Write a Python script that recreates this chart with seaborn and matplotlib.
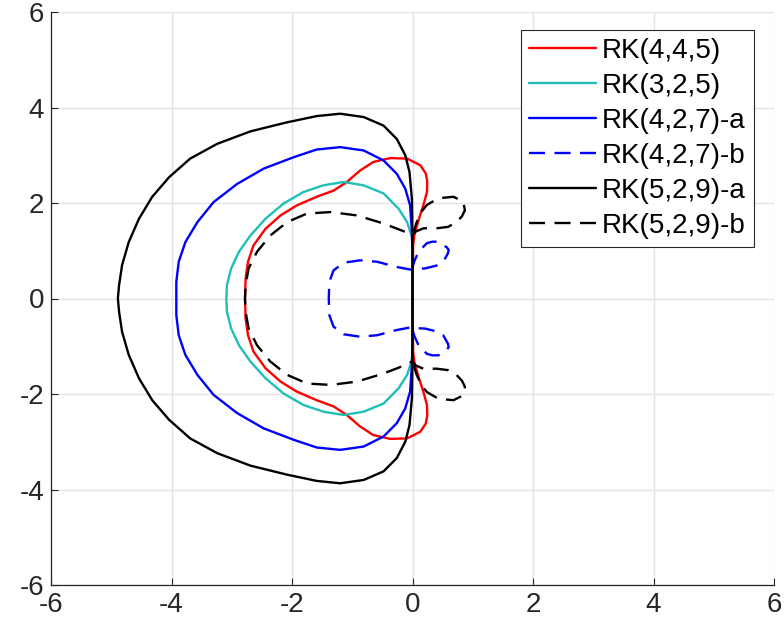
import numpy as np
import pandas as pd
import matplotlib
matplotlib.use("Agg")
import matplotlib.pyplot as plt
import seaborn as sns

# Upper halves (Im >= 0) of each stability boundary.
# The curves are symmetric about the real axis; the lower half is the mirror.
rk445_x = [-2.78, -2.77, -2.73, -2.64, -2.44, -2.19, -1.92, -1.59, -1.31, -1.09, -0.87, -0.65, -0.37, -0.09, 0.13, 0.22, 0.245, 0.24, 0.18, 0.10, 0.03, 0.01, 0.0]
rk445_y = [0.00, 0.42, 0.77, 1.11, 1.46, 1.74, 1.95, 2.13, 2.26, 2.44, 2.68, 2.86, 2.94, 2.93, 2.79, 2.62, 2.45, 2.23, 1.95, 1.64, 1.32, 1.11, 0.00]

rk325_x = [-3.09, -3.08, -3.01, -2.88, -2.69, -2.44, -2.14, -1.81, -1.48, -1.14, -0.81, -0.48, -0.23, -0.09, -0.01, 0.0, 0.0]
rk325_y = [0.00, 0.28, 0.63, 0.98, 1.32, 1.67, 1.99, 2.23, 2.37, 2.44, 2.37, 2.20, 1.88, 1.60, 1.29, 1.11, 0.00]

rk427a_x = [-3.92, -3.92, -3.88, -3.77, -3.57, -3.30, -2.91, -2.47, -1.97, -1.59, -1.20, -0.81, -0.48, -0.26, -0.12, -0.04, -0.01, 0.0, 0.0]
rk427a_y = [0.00, 0.35, 0.77, 1.18, 1.60, 2.02, 2.40, 2.72, 2.96, 3.12, 3.17, 3.10, 2.89, 2.61, 2.30, 1.95, 1.39, 0.90, 0.00]

rk427b_x = [-1.39, -1.38, -1.31, -1.14, -0.87, -0.59, -0.26, -0.01, 0.04, 0.21, 0.40, 0.51, 0.59, 0.60, 0.57, 0.43, 0.33, 0.24, 0.10, 0.03, 0.0]
rk427b_y = [0.00, 0.35, 0.59, 0.75, 0.80, 0.77, 0.66, 0.60, 0.62, 0.63, 0.69, 0.77, 0.95, 1.02, 1.07, 1.19, 1.19, 1.16, 0.98, 0.78, 0.66]

rk529a_x = [-4.89, -4.87, -4.82, -4.71, -4.54, -4.32, -4.04, -3.69, -3.24, -2.69, -2.08, -1.59, -1.20, -0.81, -0.48, -0.26, -0.12, -0.05, -0.01, 0.0, 0.0]
rk529a_y = [0.00, 0.28, 0.70, 1.18, 1.67, 2.13, 2.54, 2.93, 3.24, 3.50, 3.69, 3.82, 3.87, 3.80, 3.62, 3.34, 3.00, 2.65, 2.09, 1.25, 0.00]

rk529b_x = [-2.78, -2.77, -2.72, -2.58, -2.36, -2.08, -1.75, -1.36, -0.92, -0.48, -0.15, -0.01, 0.05, 0.18, 0.40, 0.59, 0.73, 0.82, 0.87, 0.84, 0.68, 0.43, 0.24, 0.15, 0.07, 0.02]
rk529b_y = [0.00, 0.28, 0.63, 0.98, 1.32, 1.60, 1.78, 1.81, 1.74, 1.57, 1.41, 1.32, 1.40, 1.47, 1.47, 1.50, 1.60, 1.72, 1.85, 2.03, 2.13, 2.10, 1.96, 1.82, 1.60, 1.40]

labels = ["RK(4,4,5)", "RK(3,2,5)", "RK(4,2,7)-a", "RK(4,2,7)-b", "RK(5,2,9)-a", "RK(5,2,9)-b"]
colors = ["#ff0000", "#1fbfb8", "#0000ff", "#0000ff", "#000000", "#000000"]
styles = ["-", "-", "-", "--", "-", "--"]
xs = [rk445_x, rk325_x, rk427a_x, rk427b_x, rk529a_x, rk529b_x]
ys = [rk445_y, rk325_y, rk427a_y, rk427b_y, rk529a_y, rk529b_y]

ticks = [-6, -4, -2, 0, 2, 4, 6]

sns.set_theme(style="white")
plt.rcParams['font.family'] = ['Liberation Sans', 'DejaVu Sans']

fig = plt.figure(figsize=(7.84, 6.36), dpi=100)
ax = fig.add_axes([51/784, 51/636, 723/784, 573/636])

for x, y, lab, c, ls in zip(xs, ys, labels, colors, styles):
    x = np.asarray(x); y = np.asarray(y)
    full_x = np.concatenate([x[::-1], x])
    full_y = np.concatenate([-y[::-1], y])
    df = pd.DataFrame({"re": full_x, "im": full_y})
    sns.lineplot(data=df, x="re", y="im", sort=False, estimator=None,
                 color=c, linewidth=1.7, ax=ax, label=lab)
    l = ax.get_lines()[-1]
    l.set_solid_joinstyle("round")
    l.set_dash_joinstyle("round")
    if ls == "--":
        l.set_dashes((6.8, 4.0))

ax.set_xlim(-6, 6)
ax.set_ylim(-6, 6)
ax.set_xticks(ticks)
ax.set_yticks(ticks)
ax.set_xticklabels([str(t) for t in ticks])
ax.set_yticklabels([str(t) for t in ticks])
ax.set_xlabel("")
ax.set_ylabel("")
ax.grid(True, color="#e3e3e3", linewidth=1.0)
ax.set_axisbelow(True)
for s in ["top", "right"]:
    ax.spines[s].set_visible(False)
for s in ["left", "bottom"]:
    ax.spines[s].set_color("#262626")
    ax.spines[s].set_linewidth(0.9)
ax.tick_params(direction="in", length=5, width=0.8, color="#262626",
               labelsize=20, labelcolor="#262626", pad=5,
               left=True, bottom=True)

leg = ax.legend(loc="upper right", bbox_to_anchor=(0.972, 0.969), borderaxespad=0,
                fontsize=20, handlelength=2.4, handletextpad=0.2, labelspacing=0.32,
                borderpad=0.3, fancybox=False, framealpha=1, edgecolor="#262626")
leg.get_frame().set_linewidth(0.8)
for t in leg.get_texts():
    t.set_color("#000000")

fig.savefig("out.png", dpi=100)
